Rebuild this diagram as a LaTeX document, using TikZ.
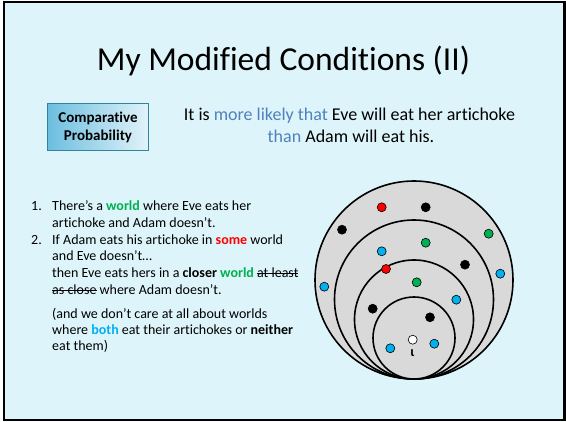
\documentclass[tikz,border=0pt]{standalone}
\usepackage{fontspec}
\setmainfont[Ligatures={NoCommon}]{Carlito}
\newcommand\strk[1]{\setbox0=\hbox{#1}\rlap{\raisebox{0.27em}{\rule{\wd0}{0.8pt}}}\box0\relax}
\definecolor{slidebg}{HTML}{DDF5FA}
\definecolor{grn}{HTML}{00B050}
\definecolor{rd}{HTML}{FF0000}
\definecolor{sky}{HTML}{00B0F0}
\definecolor{slate}{HTML}{4F81BD}
\definecolor{boxedge}{HTML}{31849B}
\definecolor{boxleft}{HTML}{6CBEDF}
\definecolor{boxright}{HTML}{E2F3F9}
\definecolor{world}{HTML}{D9D9D9}
\tikzset{
  line/.style={font=\fontsize{14}{16}\selectfont, anchor=base west, inner sep=0pt},
  sphere/.style={fill=world, draw=black, line width=1.6pt},
  dot/.style={circle, minimum size=9pt, inner sep=0pt, draw=black, line width=0.6pt},
}
\begin{document}
\begin{tikzpicture}[x=1pt,y=-1pt]
\useasboundingbox (0,0) rectangle (566,422);
\fill[white] (0,0) rectangle (566,422);
\draw[fill=slidebg, line width=2.6pt] (4,2.2) rectangle (564.2,420);
% title
\node[anchor=base, inner sep=0pt, font=\fontsize{33.5}{36}\selectfont] (title) at (283.5,71) {My Modified Conditions (II)};
% comparative box
\node[draw=boxedge, line width=1.8pt, left color=boxleft, right color=boxright,
      minimum width=101pt, minimum height=47pt, inner sep=0pt, align=center,
      font=\fontsize{15}{18}\selectfont\bfseries] (cp) at (98,127) {Comparative\\Probability};
\node[anchor=base, inner sep=0pt, font=\fontsize{18}{20}\selectfont] (s1) at (349.5,121)
  {It is \textcolor{slate}{more likely that} Eve will eat her artichoke};
\node[anchor=base, inner sep=0pt, font=\fontsize{18}{20}\selectfont] (s2) at (351,142.5)
  {\textcolor{slate}{than} Adam will eat his.};
% list
\node[line] (n1) at (31,210.5) {1.};
\node[line] (l1) at (52,210.5) {There’s a \textcolor{grn}{\textbf{world}} where Eve eats her};
\node[line] (l2) at (52,227.5) {artichoke and Adam doesn’t.};
\node[line] (n2) at (31,244.5) {2.};
\node[line] (l3) at (52,244.5) {If Adam eats his artichoke in \textcolor{rd}{\textbf{some}} world};
\node[line] (l4) at (52,261) {and Eve doesn’t…};
\node[line] (l5) at (52,278) {then Eve eats hers in a \textbf{closer} \textcolor{grn}{\textbf{world}} \strk{at least}};
\node[line] (l6) at (52,295) {\strk{as close} where Adam doesn’t.};
\node[line] (p1) at (52,319) {(and we don’t care at all about worlds};
\node[line] (p2) at (52,335) {where \textcolor{sky}{\textbf{both}} eat their artichokes or \textbf{neither}};
\node[line] (p3) at (52,351) {eat them)};
% spheres
\draw[sphere] (414,280) circle (99);
\draw[sphere] (414,299.5) circle (79.5);
\draw[sphere] (414,319.5) circle (59.5);
\draw[sphere] (414,338) circle (41);
% dots
\node[dot, fill=rd] (d1) at (381.7,207.3) {};
\node[dot, fill=black] (d2) at (425.7,207.3) {};
\node[dot, fill=black] (d3) at (342,229.7) {};
\node[dot, fill=grn] (d4) at (488.7,233.7) {};
\node[dot, fill=grn] (d5) at (425.7,242.7) {};
\node[dot, fill=sky] (d6) at (381.7,251.3) {};
\node[dot, fill=black] (d7) at (465,264.7) {};
\node[dot, fill=rd] (d8) at (386,269) {};
\node[dot, fill=sky] (d9) at (500.3,273.7) {};
\node[dot, fill=sky] (d10) at (324.3,286.7) {};
\node[dot, fill=grn] (d11) at (416.7,282.3) {};
\node[dot, fill=sky] (d12) at (456.3,299.7) {};
\node[dot, fill=black] (d13) at (372.7,308.7) {};
\node[dot, fill=black] (d14) at (430,317.3) {};
\node[dot, fill=white] (d15) at (412.7,339.7) {};
\node[dot, fill=sky] (d16) at (390.3,348.3) {};
\node[dot, fill=sky] (d17) at (434.3,343.7) {};
\node[anchor=base, inner sep=0pt, font=\fontsize{14}{14}\selectfont\bfseries] (iota) at (412.5,357) {ι};
\end{tikzpicture}
\end{document}
